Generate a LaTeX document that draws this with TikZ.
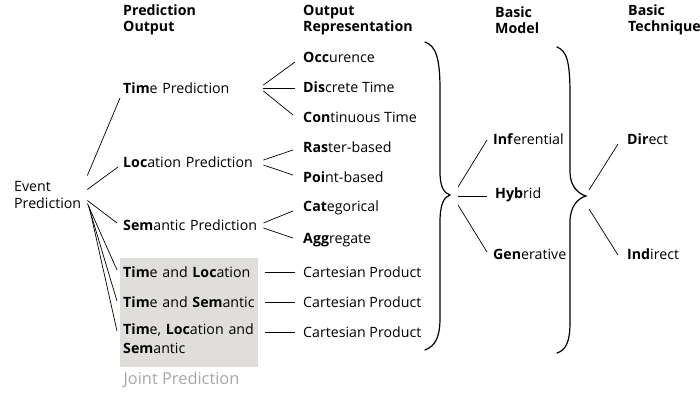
\documentclass[tikz,border=0pt]{standalone}
\usepackage{fontspec}
\setmainfont{Open Sans}
\usetikzlibrary{positioning}

\definecolor{jointgray}{HTML}{E0DEDB}
\definecolor{labelgray}{HTML}{A8A8A8}

\begin{document}
\begin{tikzpicture}[x=1pt, y=-1pt, every node/.style={font=\fontsize{14.2}{17}\selectfont}]
    % styles
    \tikzstyle{head} = [anchor=west, align=left, inner sep=0pt, font=\bfseries\fontsize{14.2}{16}\selectfont]
    \tikzstyle{pred} = [anchor=west, align=left, text width=136pt, inner sep=2pt]
    \tikzstyle{item} = [anchor=west, inner sep=2pt]
    \tikzstyle{link} = [line width=0.7pt, draw=black]
    \tikzstyle{curly} = [line width=1.2pt, line cap=round]

    \useasboundingbox (0,0) rectangle (700,393);

    % joint prediction box
    \fill[jointgray] (120,258) rectangle (258,367);
    \node (joint) [text=labelgray, inner sep=0pt, font=\fontsize{16.4}{19}\selectfont] at (181.5,380) {Joint Prediction};

    % column headers
    \node (hpred) [head] at (123,20) {Prediction\\Output};
    \node (hrep) [head] at (303,20) {Output\\Representation};
    \node (hmodel) [head] at (495,20) {Basic\\Model};
    \node (htech) [head] at (628,20) {Basic\\Technique};

    % root
    \node (event) [anchor=west, align=left, inner sep=2pt] at (12,194.5) {Event\\Prediction};

    % prediction output
    \node (timep) [pred] at (121,88) {\textbf{Tim}e Prediction};
    \node (locp) [pred] at (121,162) {\textbf{Loc}ation Prediction};
    \node (semp) [pred] at (121,225) {\textbf{Sem}antic Prediction};
    \node (tl) [pred] at (121,272) {\textbf{Tim}e and \textbf{Loc}ation};
    \node (ts) [pred] at (121,302) {\textbf{Tim}e and \textbf{Sem}antic};
    \node (tls) [pred, anchor=north west, font=\fontsize{14.2}{19}\selectfont] at (121,322) {\textbf{Tim}e, \textbf{Loc}ation and\\\textbf{Sem}antic};

    % output representation
    \node (occ) [item] at (301,57) {\textbf{Occ}urence};
    \node (dis) [item] at (301,87) {\textbf{Dis}crete Time};
    \node (con) [item] at (301,117) {\textbf{Con}tinuous Time};
    \node (ras) [item] at (301,147) {\textbf{Ras}ter-based};
    \node (poi) [item] at (301,177) {\textbf{Poi}nt-based};
    \node (cat) [item] at (301,208) {\textbf{Cat}egorical};
    \node (agg) [item] at (301,240) {\textbf{Agg}regate};
    \node (cp1) [item] at (301,272) {Cartesian Product};
    \node (cp2) [item] at (301,302) {Cartesian Product};
    \node (cp3) [item] at (301,332) {Cartesian Product};

    % basic model
    \node (inf) [item] at (491,139) {\textbf{Inf}erential};
    \node (hyb) [item] at (493,195) {\textbf{Hyb}rid};
    \node (gen) [item] at (491,254) {\textbf{Gen}erative};

    % basic technique
    \node (dir) [item] at (625,139) {\textbf{Dir}ect};
    \node (ind) [item] at (625,254) {\textbf{Ind}irect};

    % braces
    \coordinate (mtip) at (450,195);
    \coordinate (ttip) at (586,196);
    \draw[curly] (425,42) .. controls (436,46) and (440,58) .. (440,90) -- (440,172)
        .. controls (440,187) and (444,193) .. (mtip)
        .. controls (444,197) and (440,204) .. (440,222) -- (440,318)
        .. controls (440,338) and (435,346) .. (425,350);
    \draw[curly] (557,47) .. controls (567,51) and (570,62) .. (570,95) -- (570,172)
        .. controls (570,187) and (579,194) .. (ttip)
        .. controls (579,198) and (570,205) .. (570,222) -- (570,322)
        .. controls (570,342) and (566,350) .. (557,353);

    % event to prediction output
    \draw[link] ([shift={(4,-19)}]event.east) -- ([shift={(-1,10)}]timep.west);
    \draw[link] ([shift={(4,-5)}]event.east) -- ([shift={(-3,5)}]locp.west);
    \draw[link] ([shift={(4,6)}]event.east) -- ([shift={(-4,-2)}]semp.west);
    \draw[link] ([shift={(4,9)}]event.east) -- ([shift={(-4,-2)}]tl.west);
    \draw[link] ([shift={(5,11)}]event.east) -- ([shift={(-4,-1)}]ts.west);
    \draw[link] ([shift={(6,13)}]event.east) -- ([shift={(-4,9)}]tls.north west);

    % prediction output to representation
    \draw[link] ([shift={(2,-3)}]timep.east) -- ([shift={(-6,5)}]occ.west);
    \draw[link] ([shift={(2,0)}]timep.east) -- ([shift={(-6,1)}]dis.west);
    \draw[link] ([shift={(2,3)}]timep.east) -- ([shift={(-8,-2)}]con.west);
    \draw[link] ([shift={(2,-2)}]locp.east) -- ([shift={(-8,3)}]ras.west);
    \draw[link] ([shift={(2,3)}]locp.east) -- ([shift={(-8,-2)}]poi.west);
    \draw[link] ([shift={(2,-2)}]semp.east) -- ([shift={(-8,3)}]cat.west);
    \draw[link] ([shift={(2,3)}]semp.east) -- ([shift={(-8,-2)}]agg.west);
    \draw[link] ([shift={(4,0)}]tl.east) -- ([shift={(-6,0)}]cp1.west);
    \draw[link] ([shift={(4,0)}]ts.east) -- ([shift={(-6,0)}]cp2.west);
    \draw[link] ([shift={(4,10)}]tls.north east) -- ([shift={(-6,0)}]cp3.west);

    % braces to models and techniques
    \draw[link] ([shift={(8,-8)}]mtip) -- ([shift={(-4,1)}]inf.west);
    \draw[link] ([shift={(8,1)}]mtip) -- ([shift={(-6,1)}]hyb.west);
    \draw[link] ([shift={(8,10)}]mtip) -- ([shift={(-4,-2)}]gen.west);
    \draw[link] ([shift={(3,-6)}]ttip) -- ([shift={(-7,5)}]dir.west);
    \draw[link] ([shift={(3,13)}]ttip) -- ([shift={(-7,1)}]ind.west);
\end{tikzpicture}
\end{document}
